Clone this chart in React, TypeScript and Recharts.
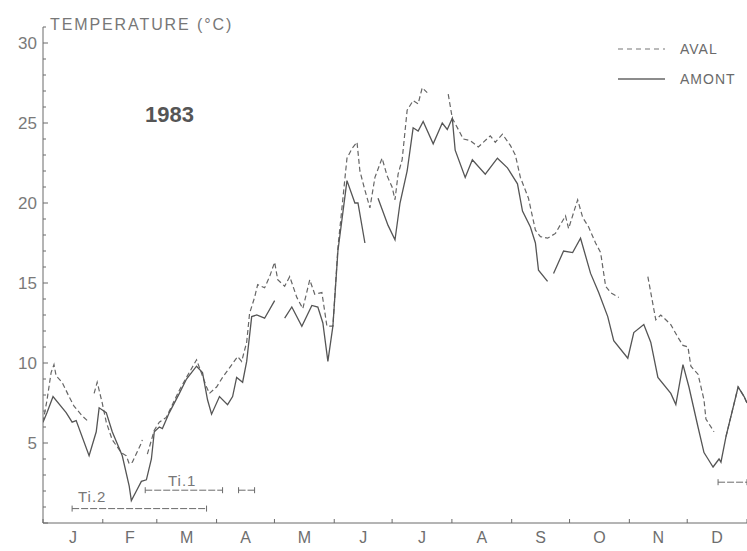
import React from 'react';
import { LineChart, Line, XAxis, YAxis } from 'recharts';

const monthLabels = ['J', 'F', 'M', 'A', 'M', 'J', 'J', 'A', 'S', 'O', 'N', 'D'];
const monthStarts = [0, 31, 59, 90, 120, 151, 181, 212, 243, 273, 304, 334, 365];
const yTicks = Array.from({ length: 32 }, (_, i) => i);

// AMONT (solid) – day of year, temperature (null = gap in the record)
const amontDays = [0, 2.1, 5.2, 12, 15.1, 17.2, 23.9, 27.6, 29.1, 32.8, 35.9, 41.1, 44.7, 45.8, 48.4, 51, 53.6, 56.2, 57.7, 60.3, 61.9, 65.5, 70.7, 74.4, 79.6, 82.7, 85.3, 87.4, 91.5, 95.7, 98.3, 100.4, 103.5, 105.6, 108.2, 110.8, 114.9, 120.1, 122.7, 125.3, 129, 134.2, 139.4, 142.5, 145.1, 147.7, 150.3, 152.9, 157.6, 161.7, 163.3, 166.9, 170, 173.7, 178.9, 182.5, 185.1, 188.8, 191.9, 194.5, 197.1, 202.3, 207, 209.6, 212.2, 213.7, 218.9, 222.6, 229.3, 235.6, 240.8, 246, 248.6, 252.7, 255.3, 256.9, 261.6, 263.1, 264.7, 269.9, 274.6, 278.7, 283.9, 288.1, 292.8, 295.9, 303.2, 306.3, 311.5, 315.1, 318.8, 325.5, 328.1, 331.8, 334.9, 339.6, 342.7, 344.8, 347.4, 350.5, 351.5, 354.1, 360.4, 363.5, 365];
const amontTemps = [6.3, 6.9, 7.9, 6.9, 6.3, 6.4, 4.2, 5.7, 7.2, 6.9, 5.7, 4.2, 2.3, 1.4, 2.0, 2.6, 2.7, 4.0, 5.7, 6.0, 5.9, 6.9, 8.1, 9.0, 9.8, 9.4, 7.7, 6.8, 7.9, 7.4, 7.9, 9.1, 8.8, 10.1, 12.9, 13.0, 12.8, 13.9, null, 12.8, 13.5, 12.3, 13.6, 13.5, 12.5, 10.1, 12.3, 17.0, 21.4, 20.0, 20.0, 17.5, null, 20.3, 18.6, 17.7, 20.0, 22.0, 24.7, 24.5, 25.1, 23.7, 25.0, 24.6, 25.3, 23.3, 21.6, 22.7, 21.8, 22.8, 22.2, 21.2, 19.5, 18.5, 17.5, 15.8, 15.1, null, 15.6, 17.0, 16.9, 17.8, 15.6, 14.4, 12.9, 11.4, 10.3, 11.9, 12.4, 11.3, 9.1, 8.1, 7.4, 9.9, 8.5, 6.0, 4.4, 4.0, 3.5, 4.0, 3.8, 5.4, 8.5, 7.9, 7.5];

// AVAL (dashed)
const avalDays = [0, 2.1, 4.2, 5.7, 6.8, 9.9, 13.5, 16.1, 20.3, 23.9, 25, 26.5, 28.1, 30.7, 32.8, 35.9, 40.6, 43.2, 44.7, 46.3, 51, 51.5, 52.5, 54.1, 57.7, 60.3, 63.9, 70.7, 74.4, 79.6, 84.8, 86.3, 90, 93.1, 96.7, 100.9, 103, 105.6, 107.1, 109.7, 111.3, 114.9, 117.5, 120.1, 121.7, 125.3, 127.9, 131.6, 134.7, 138.3, 140.9, 144.6, 147.2, 150.3, 152.9, 157.6, 160.2, 162.8, 164.3, 166.9, 169.5, 172.1, 175.8, 178.4, 181, 182.5, 184.1, 186.2, 188.8, 191.9, 194.5, 196.6, 199.2, 204, 210.1, 212.2, 215.3, 217.9, 221.5, 225.7, 231.9, 234.5, 238.2, 242.3, 244.9, 247.5, 251.7, 255.3, 257.9, 261.6, 265.7, 270.9, 272.5, 275.1, 277.2, 279.8, 282.9, 286.5, 289.1, 291.7, 294.3, 298.5, 305, 313.6, 317.7, 320.3, 325.5, 329.2, 331.8, 334.4, 335.9, 339.6, 342.7, 343.7, 347.9, 351, 354.1, 360.4, 363.5, 365];
const avalTemps = [6.3, 7.7, 9.4, 9.9, 9.2, 8.8, 7.9, 7.3, 6.7, 6.3, null, 8.1, 8.8, 7.5, 6.3, 5.2, 4.4, 4.2, 3.7, 3.8, 5.0, 5.2, null, 4.3, 5.8, 6.3, 6.6, 8.3, 9.1, 10.2, 8.5, 8.1, 8.5, 9.1, 9.7, 10.4, 10.1, 11.3, 13.1, 14.1, 14.9, 14.7, 15.4, 16.3, 15.2, 14.8, 15.4, 14.1, 13.4, 15.2, 14.3, 14.4, 12.3, 12.3, 17.2, 22.8, 23.4, 23.8, 22.0, 20.8, 19.7, 21.6, 22.8, 21.7, 21.0, 20.2, 21.8, 22.7, 25.8, 26.4, 26.2, 27.2, 26.9, null, 26.8, 25.3, 24.6, 24.0, 23.9, 23.5, 24.2, 23.8, 24.3, 23.6, 23.0, 21.6, 20.3, 18.3, 17.9, 17.8, 18.1, 19.2, 18.4, 19.4, 20.2, 19.1, 18.5, 17.5, 16.9, 14.8, 14.4, 14.1, null, 15.4, 12.7, 13.0, 12.4, 11.6, 11.1, 11.0, 9.8, 9.3, 7.7, 6.5, 5.7, null, 5.4, 8.5, 7.9, 7.5];

// Ti periods (horizontal bars): start day, end day, level
const tiStarts = [15.1, 53.0, 101.4, 350];
const tiEnds = [84.8, 93.1, 109.7, 365];
const tiLevels = [0.9, 2.05, 2.05, 2.55];

const amontData = amontDays.map((d, i) => ({ d, v: amontTemps[i] }));
const avalData = avalDays.map((d, i) => ({ d, v: avalTemps[i] }));
const tiData = tiStarts.map((s, i) => [
  { d: s, v: tiLevels[i] },
  { d: tiEnds[i], v: tiLevels[i] },
]);

const GREY = '#6a6a6a';
const FONT = '"Liberation Sans", "DejaVu Sans", sans-serif';

const YTick = (props: any) => {
  const { x, y, payload } = props;
  const v = payload.value;
  const major = v % 5 === 0;
  return (
    <g>
      <line x1={x} x2={x + (major ? 5 : 3)} y1={y} y2={y} stroke={GREY} strokeWidth={1} />
      {major && v > 0 ? (
        <text x={x - 6} y={y + 6} textAnchor="end" fontSize={17} fill="#7a7a7a" fontFamily={FONT}>
          {v}
        </text>
      ) : null}
    </g>
  );
};

const XTick = (props: any) => {
  const { x, y, payload } = props;
  const v = payload.value;
  const i = monthStarts.indexOf(v);
  const ppd = 704 / 365;
  const next = i >= 0 && i < 12 ? monthStarts[i + 1] : v;
  const lx = x + ((next - v) / 2) * ppd;
  return (
    <g>
      <line x1={x} x2={x} y1={y} y2={y - 4} stroke={GREY} strokeWidth={1} />
      {i >= 0 && i < 12 ? (
        <text x={lx} y={y + 20} textAnchor="middle" fontSize={16} fill="#6e6e6e" fontFamily={FONT}>
          {monthLabels[i]}
        </text>
      ) : null}
    </g>
  );
};

const tickDot = (p: any) => (
  <line key={`t${p.index}`} x1={p.cx} x2={p.cx} y1={p.cy - 3} y2={p.cy + 3} stroke={GREY} strokeWidth={1} />
);

export default function App() {
  return (
    <div style={{ position: 'absolute', left: 0, top: 0, width: 747, height: 551, background: '#fff', fontFamily: FONT }}>
      <LineChart width={747} height={551} data={amontData} margin={{ top: 27, right: 0, bottom: 0, left: 0 }}>
        <XAxis
          dataKey="d"
          type="number"
          domain={[0, 365]}
          ticks={monthStarts}
          interval={0}
          tick={<XTick />}
          tickLine={false}
          tickSize={0}
          tickMargin={0}
          height={28}
          stroke={GREY}
          allowDataOverflow
        />
        <YAxis
          type="number"
          domain={[0, 31]}
          ticks={yTicks}
          interval={0}
          tick={<YTick />}
          tickLine={false}
          tickSize={0}
          tickMargin={0}
          width={43}
          stroke={GREY}
          allowDataOverflow
        />
        <Line data={avalData} dataKey="v" stroke="#666" strokeWidth={1.2} strokeDasharray="5 3" dot={false} isAnimationActive={false} connectNulls={false} />
        <Line data={amontData} dataKey="v" stroke="#555" strokeWidth={1.3} dot={false} isAnimationActive={false} connectNulls={false} />
        {tiData.map((seg, i) => (
          <Line key={i} data={seg} dataKey="v" stroke={GREY} strokeWidth={1} strokeDasharray="7 2" dot={tickDot} isAnimationActive={false} />
        ))}
      </LineChart>
      <div style={{ position: 'absolute', left: 50, top: 16, fontSize: 16, letterSpacing: 1.9, color: '#777' }}>TEMPERATURE (°C)</div>
      <div style={{ position: 'absolute', left: 145, top: 102, fontSize: 22, fontWeight: 'bold', color: '#555' }}>1983</div>
      <div style={{ position: 'absolute', left: 168, top: 472, fontSize: 15, color: '#777', letterSpacing: 1 }}>Ti.1</div>
      <div style={{ position: 'absolute', left: 78, top: 488, fontSize: 15, color: '#777', letterSpacing: 1 }}>Ti.2</div>
      <svg style={{ position: 'absolute', left: 610, top: 40 }} width={60} height={50}>
        <line x1={8} x2={55} y1={9} y2={9} stroke="#777" strokeWidth={1.2} strokeDasharray="5 4" />
        <line x1={8} x2={55} y1={39} y2={39} stroke="#666" strokeWidth={1.3} />
      </svg>
      <div style={{ position: 'absolute', left: 680, top: 41, fontSize: 14, color: '#6a6a6a', letterSpacing: 1 }}>AVAL</div>
      <div style={{ position: 'absolute', left: 680, top: 71, fontSize: 14, color: '#6a6a6a', letterSpacing: 1 }}>AMONT</div>
    </div>
  );
}
